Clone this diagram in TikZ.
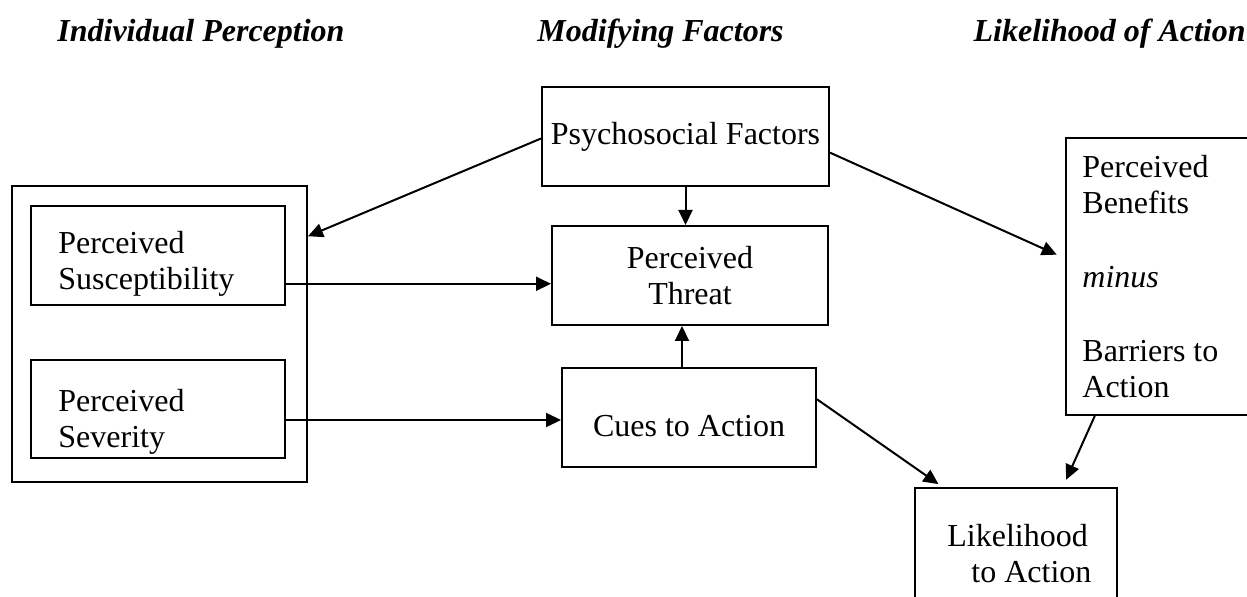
\documentclass[tikz,border=0pt]{standalone}
\usepackage{fontspec}
\setmainfont{Liberation Serif}
\usetikzlibrary{arrows.meta,calc}
\begin{document}
\begin{tikzpicture}[x=0.5pt,y=-0.5pt,
  box/.style={draw, line width=1pt, rectangle, inner sep=0pt, font=\fontsize{16}{18.4}\selectfont},
  txt/.style={inner sep=0pt, align=left, anchor=base west, font=\fontsize{16}{18.4}\selectfont},
  hdr/.style={anchor=base west, inner sep=0pt, font=\fontsize{16}{18.4}\selectfont\bfseries\itshape},
  arr/.style={-{Triangle[length=7.5pt,width=7pt]}, line width=1pt},
]
\useasboundingbox (0,0) rectangle (1247,597);
% headers
\node[hdr] (h1) at (57,42) {Individual Perception};
\node[hdr] (h2) at (537,42) {Modifying Factors};
\node[hdr, anchor=base east] (h3) at (1246,42) {Likelihood of Action};
% boxes
\node[box, minimum width=147.5pt, minimum height=148pt] (outer) at (159.5,334) {};
\node[box, minimum width=127pt, minimum height=49.5pt] (susc) at (158,255.5) {};
\node[txt] (susct) at (58,290) {Perceived\\Susceptibility};
\node[box, minimum width=127pt, minimum height=49pt] (sev) at (158,409) {};
\node[txt] (sevt) at (58,448) {Perceived\\Severity};
\node[box, minimum width=143.5pt, minimum height=49.5pt, align=center] (psych) at (685.5,136.5) {Psychosocial Factors};
\node[box, minimum width=138pt, minimum height=49.5pt, align=center] (threat) at (690,275.5) {Perceived\\Threat};
\node[box, minimum width=127pt, minimum height=49.5pt] (cues) at (689,417.5) {};
\node[txt, anchor=base] (cuest) at (689,437) {Cues to Action};
\node[box, minimum width=92pt, minimum height=138.5pt] (rbox) at (1158,276.5) {};
\node[txt] (rboxt) at (1082,398) {Perceived\\Benefits\\[18.4pt]\textit{minus}\\[18.4pt]Barriers to\\Action};
\node[box, minimum width=101pt, minimum height=66pt] (like) at (1016,554) {};
\node[txt] (liket) at (947,583) {Likelihood\\\hspace*{12pt}to Action};
% connectors
\draw[arr] ($(psych.north west)!0.52!(psych.south west)$) -- ($(outer.north east)!0.172!(outer.south east)$);
\draw[arr, shorten >=4.5pt] ($(psych.north east)!0.66!(psych.south east)$) -- ($(rbox.north west)!0.435!(rbox.south west)$);
\draw[arr] (psych.south) -- (psych.south |- threat.north);
\coordinate (s1) at ($(susc.north east)!0.78!(susc.south east)$);
\draw[arr] (s1) -- (s1 -| threat.west);
\coordinate (s2) at ($(sev.north east)!0.61!(sev.south east)$);
\draw[arr] (s2) -- (s2 -| cues.west);
\coordinate (c1) at ([xshift=-3.5pt]cues.north);
\draw[arr] (c1) -- (c1 |- threat.south);
\draw[arr, shorten >=2.5pt] ($(cues.north east)!0.32!(cues.south east)$) -- ($(like.north west)!0.14!(like.north east)$);
\draw[arr, shorten >=4pt] ($(rbox.south west)!0.16!(rbox.south east)$) -- ($(like.north west)!0.73!(like.north east)$);
\end{tikzpicture}
\end{document}
